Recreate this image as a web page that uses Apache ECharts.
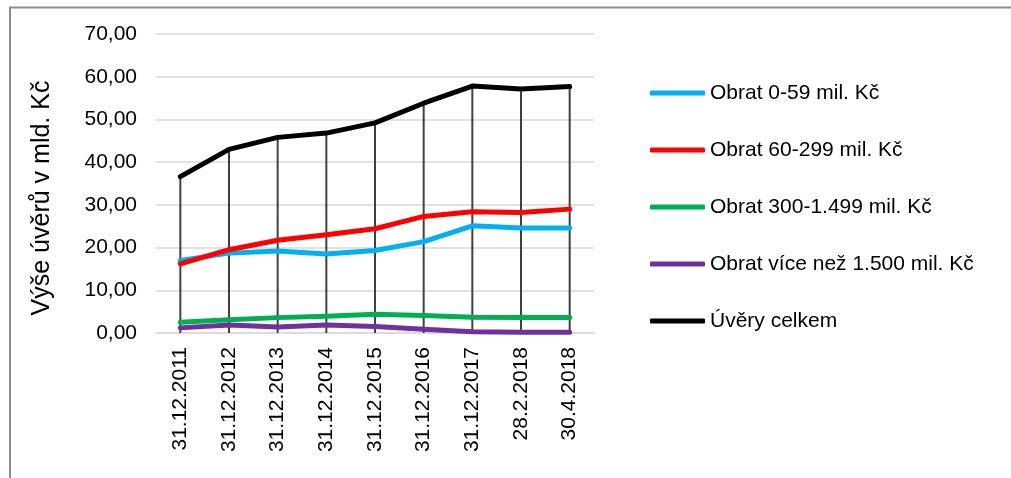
<!DOCTYPE html>
<html>
<head>
<meta charset="utf-8">
<script src="https://cdn.jsdelivr.net/npm/echarts@6/dist/echarts.min.js"></script>
<style>
html,body{margin:0;padding:0;background:#fff;}
#chart{width:1011px;height:478px;}
</style>
</head>
<body>
<div id="chart"></div>
<script>
const categories = ['31.12.2011','31.12.2012','31.12.2013','31.12.2014','31.12.2015','31.12.2016','31.12.2017','28.2.2018','30.4.2018'];
const obrat0_59 = [17.0, 18.7, 19.2, 18.5, 19.3, 21.4, 25.1, 24.6, 24.6];
const obrat60_299 = [16.2, 19.5, 21.7, 23.0, 24.4, 27.3, 28.4, 28.2, 29.0];
const obrat300_1499 = [2.5, 3.1, 3.6, 3.9, 4.4, 4.1, 3.7, 3.6, 3.6];
const obratNad1500 = [1.2, 1.9, 1.4, 1.9, 1.5, 0.9, 0.3, 0.2, 0.2];
const uveryCelkem = [36.6, 43.0, 45.8, 46.8, 49.2, 53.8, 57.8, 57.1, 57.7];
const seriesNames = ['Obrat 0-59 mil. Kč','Obrat 60-299 mil. Kč','Obrat 300-1.499 mil. Kč','Obrat více než 1.500 mil. Kč','Úvěry celkem'];
const yTitle = 'Výše úvěrů v mld. Kč';
const yTicks = {min: 0, max: 70, interval: 10};

const colors = ['#00b0f0','#ff0000','#00b050','#7030a0','#000000'];
const values = [obrat0_59, obrat60_299, obrat300_1499, obratNad1500, uveryCelkem];
const FONT = '"Liberation Sans", Arial, sans-serif';

const chart = echarts.init(document.getElementById('chart'), null, {renderer: 'canvas'});

const lineSeries = seriesNames.map((n, i) => ({
  name: n,
  type: 'line',
  data: values[i],
  symbol: 'none',
  z: 3,
  color: colors[i],
  lineStyle: {width: 5, color: colors[i], cap: 'round', join: 'round'},
  animation: false
}));

chart.setOption({
  animation: false,
  textStyle: {fontFamily: FONT},
  graphic: [
    {type: 'line', shape: {x1: 9, y1: 7.5, x2: 1011, y2: 7.5}, style: {stroke: '#8c8c8c', lineWidth: 2}},
    {type: 'line', shape: {x1: 10, y1: 7, x2: 10, y2: 478}, style: {stroke: '#8c8c8c', lineWidth: 2}},
    {type: 'text', x: 42, y: 198, rotation: Math.PI / 2,
      style: {text: yTitle, font: '25px ' + FONT, fill: '#000', align: 'center', verticalAlign: 'middle'}}
  ],
  grid: {left: 156, right: 417, top: 34, bottom: 145},
  legend: {
    orient: 'vertical',
    left: 645,
    top: 76,
    data: seriesNames,
    icon: 'roundRect',
    itemWidth: 55,
    itemHeight: 5,
    itemGap: 33,
    textStyle: {fontSize: 21, color: '#000', fontFamily: FONT, lineHeight: 24, padding: [0,0,0,0]}
  },
  xAxis: {
    type: 'category',
    data: categories,
    boundaryGap: true,
    axisLine: {show: true, lineStyle: {color: '#d9d9d9', width: 1.5}},
    axisTick: {show: false},
    axisLabel: {rotate: 90, fontSize: 21, color: '#000', margin: 14, fontFamily: FONT, interval: 0}
  },
  yAxis: {
    type: 'value',
    min: yTicks.min, max: yTicks.max, interval: yTicks.interval,
    axisLine: {show: false},
    axisTick: {show: false},
    axisLabel: {fontSize: 21, color: '#000', margin: 19, fontFamily: FONT,
      formatter: v => v.toFixed(2).replace('.', ',')},
    splitLine: {lineStyle: {color: '#d9d9d9', width: 1.5}}
  },
  series: [
    {
      name: 'drop',
      type: 'bar',
      data: uveryCelkem,
      barWidth: 2,
      z: 1,
      itemStyle: {color: '#404040'},
      silent: true
    }
  ].concat(lineSeries)
});
</script>
</body>
</html>
